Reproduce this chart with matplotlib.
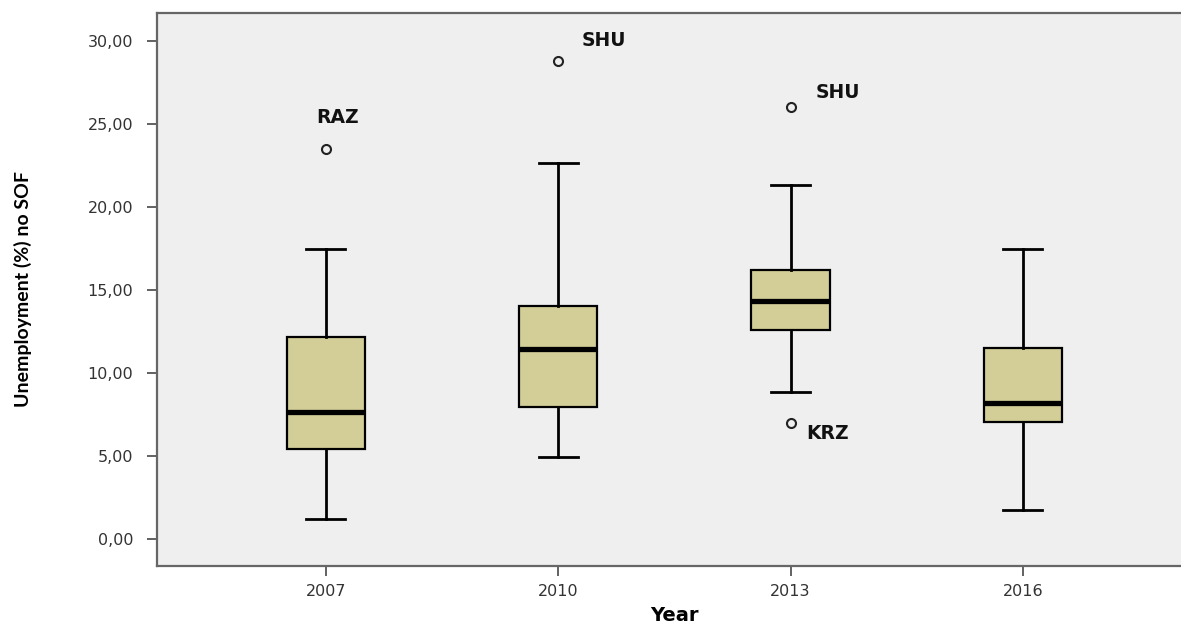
import matplotlib
matplotlib.use("Agg")
import matplotlib.pyplot as plt
import numpy as np

# Data
years = ["2007", "2010", "2013", "2016"]
whislo = [1.2, 4.92, 8.86, 1.73]
q1 = [5.42, 7.95, 12.6, 7.07]
med = [7.65, 11.43, 14.3, 8.2]
q3 = [12.17, 14.04, 16.2, 11.5]
whishi = [17.47, 22.63, 21.3, 17.43]
fliers = [[23.5], [28.8], [26.0, 7.0]]
fliers.append([])
outlier_labels = [["RAZ"], ["SHU"], ["SHU", "KRZ"], []]
yticks = [0, 5, 10, 15, 20, 25, 30]

fig = plt.figure(figsize=(11.81, 6.27), dpi=100)
ax = fig.add_axes([0.1329, 0.0973, 0.8671, 0.8827])
ax.set_facecolor("#efefef")

stats = []
for i, y in enumerate(years):
    stats.append(dict(label=y, whislo=whislo[i], q1=q1[i], med=med[i],
                      q3=q3[i], whishi=whishi[i], fliers=fliers[i]))

pos = np.arange(len(years))
ax.bxp(stats, positions=pos, widths=0.336, capwidths=0.168, patch_artist=True,
       boxprops=dict(facecolor="#d3ce98", edgecolor="black", linewidth=1.6),
       medianprops=dict(color="black", linewidth=3.8, solid_capstyle="butt"),
       whiskerprops=dict(color="black", linewidth=2.0),
       capprops=dict(color="black", linewidth=2.0),
       flierprops=dict(marker="o", markerfacecolor="none", markeredgecolor="#222222",
                       markersize=6.5, markeredgewidth=1.5))

offsets = {(0, 0): (12, 31, "center"), (1, 0): (24, 20, "left"),
           (2, 0): (25, 15, "left"), (2, 1): (16, -11, "left")}
for i in range(len(years)):
    for j, lab in enumerate(outlier_labels[i]):
        dx, dy, ha = offsets[(i, j)]
        ax.annotate(lab, (pos[i], fliers[i][j]), xytext=(dx, dy),
                    textcoords="offset pixels", ha=ha, va="center",
                    fontsize=13.5, fontweight="bold", color="#111111",
                    family="DejaVu Sans")

ax.set_xlim(-0.726, 3.68)
ax.set_ylim(-1.63, 31.7)
ax.set_yticks(yticks)
ax.set_yticklabels([f"{v:.2f}".replace(".", ",") for v in yticks],
                   fontsize=11.5, color="#333333", family="DejaVu Sans")
ax.set_xticks(pos)
ax.set_xticklabels(years, fontsize=11.5, color="#333333", family="DejaVu Sans")
ax.tick_params(axis="y", direction="out", length=7, width=1.3, color="#555555", pad=10)
ax.tick_params(axis="x", direction="out", length=7, width=1.3, color="#555555", pad=6)

for s in ["left", "bottom", "top"]:
    ax.spines[s].set_color("#666666")
    ax.spines[s].set_linewidth(1.6)
ax.spines["right"].set_visible(False)

ax.set_xlabel("Year", fontsize=14, fontweight="bold", family="DejaVu Sans", va="center")
ax.xaxis.set_label_coords(0.505, -0.0895)
ax.set_ylabel("Unemployment (%) no SOF", fontsize=14, fontweight="bold",
              family=["Lato", "DejaVu Sans"], va="center")
ax.yaxis.set_label_coords(-0.131, 0.5)

fig.savefig("out.png", dpi=100)
